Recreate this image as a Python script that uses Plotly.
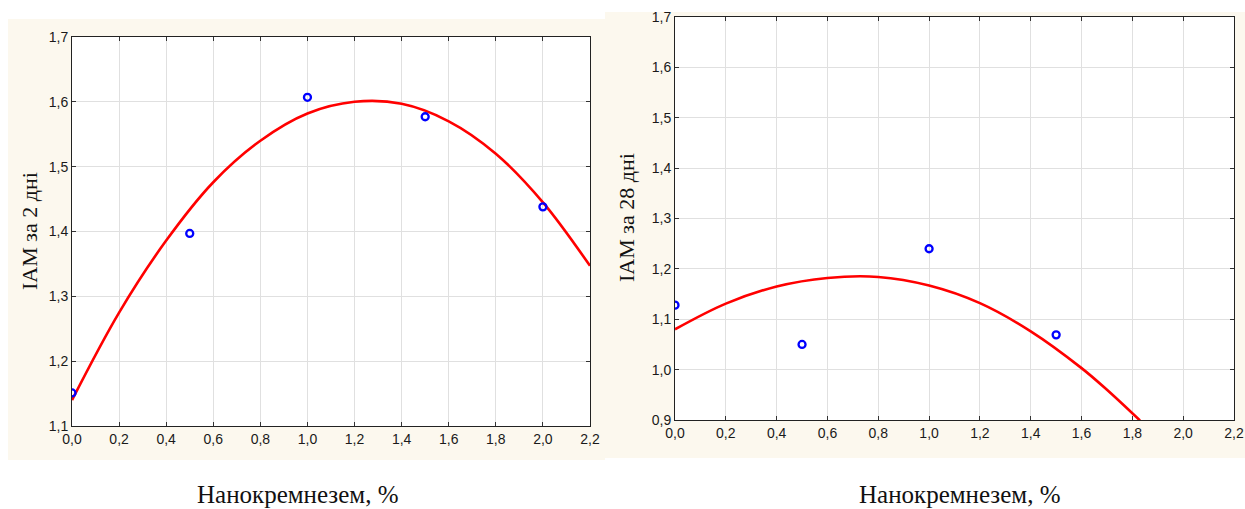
import plotly.graph_objects as go

W, H = 1245, 509

# measured points, left chart (IAM after 2 days)
x_pts_2 = [0.0, 0.5, 1.0, 1.5, 2.0]
y_pts_2 = [1.151, 1.397, 1.607, 1.577, 1.438]
# fitted curve
x_fit_2 = [0.0, 0.2, 0.4, 0.6, 0.8, 1.0, 1.2, 1.4, 1.6, 1.8, 2.0, 2.2]
y_fit_2 = [1.140, 1.275, 1.386, 1.476, 1.540, 1.582, 1.600, 1.597, 1.570, 1.520, 1.445, 1.347]

# right chart (IAM after 28 days)
x_pts_28 = [0.0, 0.5, 1.0, 1.5]
y_pts_28 = [1.128, 1.050, 1.240, 1.069]
x_fit_28 = [0.0, 0.2, 0.4, 0.6, 0.8, 1.0, 1.2, 1.4, 1.6, 1.7, 1.83]
y_fit_28 = [1.080, 1.131, 1.165, 1.182, 1.184, 1.167, 1.132, 1.076, 1.003, 0.960, 0.899]

x_ticks = [0.0, 0.2, 0.4, 0.6, 0.8, 1.0, 1.2, 1.4, 1.6, 1.8, 2.0, 2.2]
y_ticks_2 = [1.1, 1.2, 1.3, 1.4, 1.5, 1.6, 1.7]
y_ticks_28 = [0.9, 1.0, 1.1, 1.2, 1.3, 1.4, 1.5, 1.6, 1.7]

x_title = "Нанокремнезем, %"
y_title_2 = "IAM за 2 дні"
y_title_28 = "IAM за 28 дні"

BLUE = "#0000ff"
RED = "#ff0000"
BEIGE = "#fcf8ee"


def px(x):
    return x / W


def py(y):
    return 1 - y / H


# plot area boxes in pixels (left, right, bottom, top)
box_l = (72, 590, 426, 37)
box_r = (675, 1234, 420, 17)

fig = go.Figure()

fig.add_trace(go.Scatter(x=x_fit_2, y=y_fit_2, mode="lines", line=dict(color=RED, width=2.6, shape="spline"),
                         xaxis="x", yaxis="y"))
fig.add_trace(go.Scatter(x=x_pts_2, y=y_pts_2, mode="markers",
                         marker=dict(symbol="circle-open", size=7, color=BLUE, line=dict(width=2.3, color=BLUE)),
                         xaxis="x", yaxis="y"))
fig.add_trace(go.Scatter(x=x_fit_28, y=y_fit_28, mode="lines", line=dict(color=RED, width=2.6, shape="spline"),
                         xaxis="x2", yaxis="y2"))
fig.add_trace(go.Scatter(x=x_pts_28, y=y_pts_28, mode="markers",
                         marker=dict(symbol="circle-open", size=7, color=BLUE, line=dict(width=2.3, color=BLUE)),
                         xaxis="x2", yaxis="y2"))

tickfont = dict(family="Liberation Sans, Arial", size=14, color="#1a1a1a")
common = dict(showgrid=True, gridcolor="#e0e0e0", gridwidth=1, zeroline=False, automargin=False,
              showline=True, linecolor="#222", linewidth=1, mirror="ticks",
              ticks="inside", ticklen=4, tickcolor="#333", tickfont=tickfont)


def rect(x0, x1, y0, y1, color):
    return dict(type="rect", xref="paper", yref="paper", x0=px(x0), x1=px(x1), y0=py(y0), y1=py(y1),
                fillcolor=color, line=dict(width=0), layer="below")


fig.update_layout(
    template="none",
    width=W, height=H,
    margin=dict(l=0, r=0, t=0, b=0, pad=0),
    paper_bgcolor="white", plot_bgcolor="white",
    separators=", ",
    showlegend=False,
    xaxis=dict(domain=[px(box_l[0]), px(box_l[1])], range=[0, 2.2], tickvals=x_ticks, tickformat=".1f",
               anchor="y", **common),
    yaxis=dict(domain=[py(box_l[2]), py(box_l[3])], range=[1.1, 1.7], tickvals=y_ticks_2, tickformat=".1f",
               anchor="x", **common),
    xaxis2=dict(domain=[px(box_r[0]), px(box_r[1])], range=[0, 2.2], tickvals=x_ticks, tickformat=".1f",
                anchor="y2", **common),
    yaxis2=dict(domain=[py(box_r[2]), py(box_r[3])], range=[0.9, 1.7], tickvals=y_ticks_28, tickformat=".1f",
                anchor="x2", **common),
    shapes=[
        rect(8, 605, 460, 19, BEIGE),
        rect(605, W, 458, 12, BEIGE),
        rect(*box_l, "white"),
        rect(*box_r, "white"),
    ],
)

serif = dict(family="Liberation Serif, Times New Roman", size=25, color="#111")
fig.add_annotation(text=x_title, x=px(298), y=py(494), xref="paper", yref="paper",
                   showarrow=False, font=serif, xanchor="center", yanchor="middle")
fig.add_annotation(text=x_title, x=px(960), y=py(494), xref="paper", yref="paper",
                   showarrow=False, font=serif, xanchor="center", yanchor="middle")
fig.add_annotation(text=y_title_2, x=px(29), y=py(231), xref="paper", yref="paper", textangle=-90,
                   showarrow=False, font=dict(serif, size=22), xanchor="center", yanchor="middle")
fig.add_annotation(text=y_title_28, x=px(626), y=py(218), xref="paper", yref="paper", textangle=-90,
                   showarrow=False, font=dict(serif, size=22), xanchor="center", yanchor="middle")

# drop the default 8px page margin so the figure sits flush in the window
fig.write_html("out.html", config={"displayModeBar": False},
               post_script="document.body.style.margin='0px';")
